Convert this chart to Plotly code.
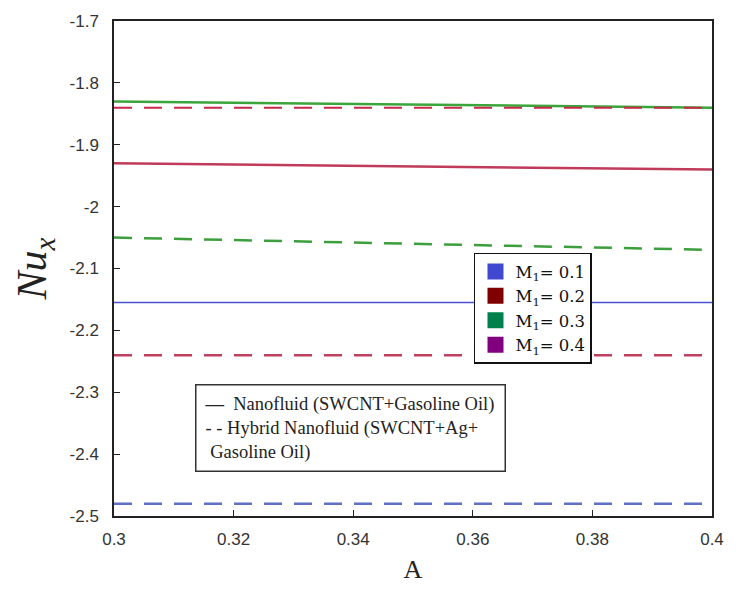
import plotly.graph_objects as go

# ---- data ----
A_vals = [0.3, 0.4]
nano_M1_green = [-1.83, -1.84]      # solid green
hybrid_M1_red_top = [-1.84, -1.84]  # dashed red
nano_M1_red = [-1.93, -1.94]        # solid red
hybrid_M1_green = [-2.05, -2.07]    # dashed green
nano_M1_blue = [-2.155, -2.155]     # solid blue
hybrid_M1_red_low = [-2.24, -2.24]  # dashed red
hybrid_M1_blue = [-2.48, -2.48]     # dashed blue

m1_labels = ["M<sub>1</sub>= 0.1", "M<sub>1</sub>= 0.2", "M<sub>1</sub>= 0.3", "M<sub>1</sub>= 0.4"]
m1_colors = ["#4048d0", "#800000", "#00804a", "#800080"]

x_ticks = [0.3, 0.32, 0.34, 0.36, 0.38, 0.4]
x_ticktext = ["0.3", "0.32", "0.34", "0.36", "0.38", "0.4"]
y_ticks = [-1.7, -1.8, -1.9, -2.0, -2.1, -2.2, -2.3, -2.4, -2.5]
y_ticktext = ["-1.7", "-1.8", "-1.9", "-2", "-2.1", "-2.2", "-2.3", "-2.4", "-2.5"]

fig = go.Figure()

curves = [
    (nano_M1_green, "#3aa53a", "solid", 2.5),
    (hybrid_M1_red_top, "#c8284a", "dash", 2),
    (nano_M1_red, "#c03a5a", "solid", 2.5),
    (hybrid_M1_green, "#3c9e3c", "dash", 2.5),
    (nano_M1_blue, "#4a50d0", "solid", 1.5),
    (hybrid_M1_red_low, "#c04060", "dash", 2.5),
    (hybrid_M1_blue, "#6070c4", "dash", 2.5),
]
for ys, col, dash, w in curves:
    fig.add_trace(go.Scatter(x=A_vals, y=ys, mode="lines",
                             line=dict(color=col, dash=dash if dash == "solid" else "18px,12px", width=w),
                             showlegend=False, hoverinfo="skip"))

for name, col in zip(m1_labels, m1_colors):
    fig.add_trace(go.Scatter(x=[None], y=[None], mode="markers", name=name,
                             marker=dict(symbol="square", size=16, color=col),
                             showlegend=True, legend="legend"))

fig.add_annotation(
    xref="paper", yref="paper", x=0.136, y=0.266, xanchor="left", yanchor="top",
    text="<b>—</b>  Nanofluid (SWCNT+Gasoline Oil)<br>- - Hybrid Nanofluid (SWCNT+Ag+<br> Gasoline Oil)",
    align="left", showarrow=False,
    font=dict(family="Liberation Serif", size=18.5, color="#222222"),
    bordercolor="#333333", borderwidth=1.5, borderpad=8, bgcolor="white",
    width=292,
)

fig.update_layout(
    width=736, height=611,
    margin=dict(l=114, r=20, t=12, b=95),
    plot_bgcolor="white", paper_bgcolor="white",
    legend=dict(x=0.602, y=0.532, xanchor="left", yanchor="top",
                font=dict(family="DejaVu Serif", size=16.5, color="#111111"),
                bordercolor="#111111", borderwidth=1.5, bgcolor="white",
                itemwidth=30, tracegroupgap=0),
    xaxis=dict(range=[0.3, 0.4], tickvals=x_ticks, ticktext=x_ticktext,
               ticks="inside", ticklen=6, tickcolor="#222", showgrid=False, zeroline=False,
               showline=True, linecolor="#222", linewidth=1.5, mirror=True,
               tickfont=dict(family="Liberation Sans", size=17, color="#333333"),
               ticklabelstandoff=7,
               title=dict(text="A", font=dict(family="Liberation Serif", size=26, color="#222"), standoff=12)),
    yaxis=dict(range=[-2.5, -1.7], tickvals=y_ticks, ticktext=y_ticktext,
               ticks="inside", ticklen=6, tickcolor="#222", showgrid=False, zeroline=False,
               showline=True, linecolor="#222", linewidth=1.5, mirror=True,
               tickfont=dict(family="Liberation Sans", size=17, color="#333333"),
               ticklabelstandoff=10,
               title=dict(text="<i>Nu</i><sub><i>x</i></sub>", font=dict(family="Liberation Serif", size=42, color="#222"), standoff=10)),
)

fig.write_html("out.html")
